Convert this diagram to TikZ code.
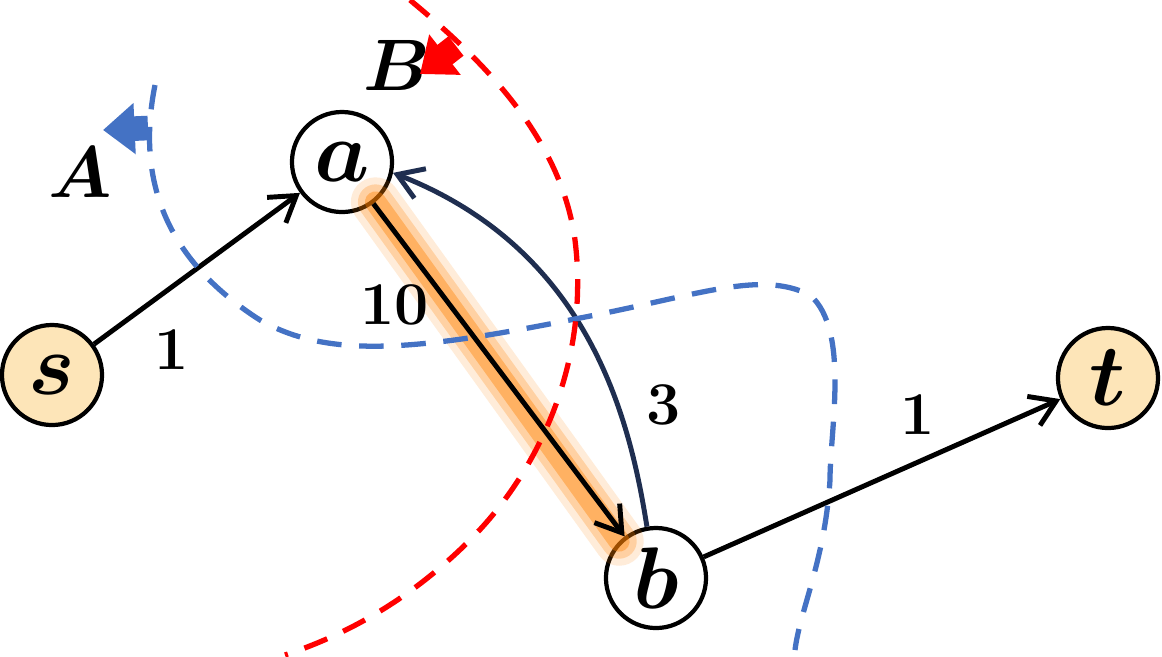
\documentclass[tikz,border=0pt]{standalone}
\usepackage{amsmath,bm}
\usetikzlibrary{arrows.meta}
\begin{document}
\begin{tikzpicture}[x=0.01cm,y=-0.01cm,
  vtx/.style={circle,draw,line width=1.2pt,minimum size=1cm,inner sep=0pt,font=\Huge\bfseries},
  term/.style={vtx,fill=yellow!25!orange!25},
  edge/.style={line width=1.4pt,-{Straight Barb[length=7pt,width=9pt]}},
  lbl/.style={font=\LARGE\bfseries},
  cutA/.style={draw={rgb,255:red,68;green,114;blue,196},line width=1.5pt,dash pattern=on 7pt off 5pt},
  cutB/.style={draw=red,line width=1.5pt,dash pattern=on 7pt off 5pt}]
\useasboundingbox (0,0) rectangle (1162,656);
\node[term] (s) at (52,375) {$\bm{s}$};
\node[vtx,fill=white] (a) at (342,162) {$\bm{a}$};
\node[vtx,fill=white] (b) at (656,578) {$\bm{b}$};
\node[term] (t) at (1108,378) {$\bm{t}$};
\foreach \w/\o in {14/0.15,10/0.25,6/0.4}
  \draw[line width=\w pt,orange,opacity=\o,line cap=round] (a.-50) -- (b.135);
\draw[edge] (s) -- (a);
\draw[edge] (a) -- (b);
\draw[edge,draw={rgb,255:red,31;green,46;blue,80}] (b.100) .. controls (630,420) and (590,250) .. (a.-12);
\draw[edge] (b) -- (t);
\draw[cutA] (155,85) .. controls (140,160) and (150,250) .. (260,320) .. controls (330,360) and (420,350) .. (580,318) .. controls (700,295) and (760,270) .. (810,295) .. controls (850,330) and (830,430) .. (830,480) .. controls (825,560) and (800,610) .. (795,650);
\draw[cutB] (410,0) .. controls (470,50) and (560,130) .. (575,240) .. controls (590,360) and (540,470) .. (470,540) .. controls (400,610) and (330,640) .. (285,655);
\node[lbl] (l1) at (172,350) {1};
\node[lbl] (l10) at (395,305) {10};
\node[lbl] (l3) at (664,405) {3};
\node[lbl] (l4) at (918,415) {1};
\node[font=\huge] (A) at (80,172) {$\bm{A}$};
\node[font=\huge] (B) at (397,65) {$\bm{B}$};
\coordinate (a1) at (148,128); \coordinate (a2) at (103,130);
\draw[-{Triangle[length=9pt,width=14pt]},line width=7pt,draw={rgb,255:red,68;green,114;blue,196}] (a1) -- (a2);
\coordinate (b1) at (456,46); \coordinate (b2) at (420,74);
\draw[-{Triangle[length=9pt,width=14pt]},line width=7pt,red] (b1) -- (b2);
\end{tikzpicture}
\end{document}
